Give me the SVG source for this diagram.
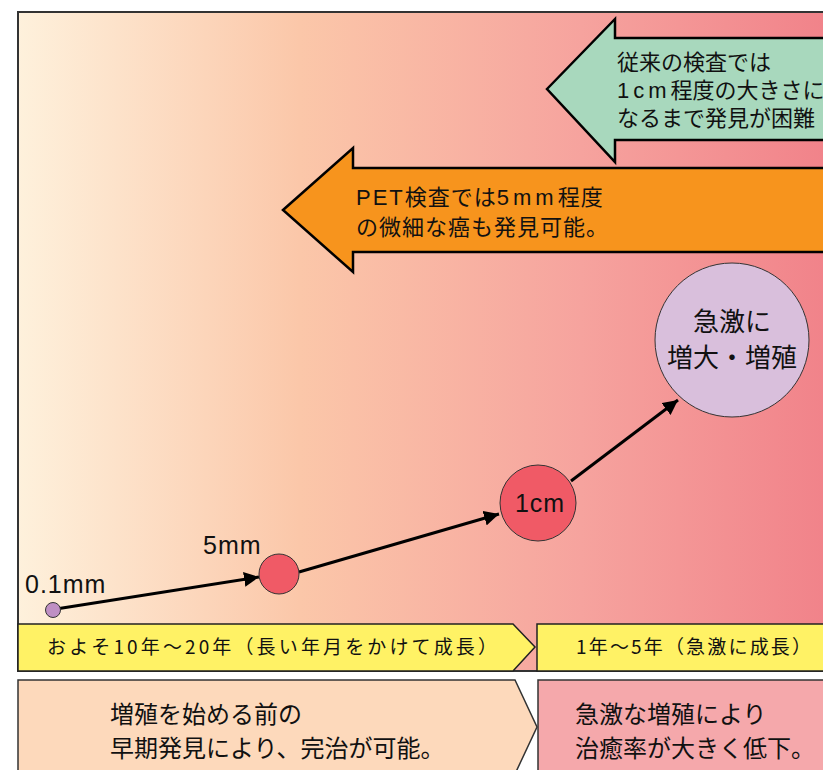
<svg xmlns="http://www.w3.org/2000/svg" width="823" height="770" viewBox="0 0 823 770">
<defs>
<linearGradient id="bg" x1="18" y1="0" x2="823" y2="0" gradientUnits="userSpaceOnUse">
<stop offset="0" stop-color="#fef1dc"/>
<stop offset="0.35" stop-color="#fbc7a9"/>
<stop offset="0.7" stop-color="#f6a39e"/>
<stop offset="1" stop-color="#f1838a"/>
</linearGradient>
<marker id="ah" viewBox="0 0 10 10" refX="10" refY="5" markerWidth="5" markerHeight="5" orient="auto" markerUnits="strokeWidth">
<path d="M0,0 L10,5 L0,10 Z" fill="#000"/>
</marker>
<style>
text{font-family:"Noto Sans CJK JP","Liberation Sans",sans-serif;fill:#111}
.lat{font-family:"Liberation Sans","Noto Sans CJK JP",sans-serif}
.ln{stroke:#000;stroke-width:3;fill:none;marker-end:url(#ah)}
.big{font-size:22px}
.band{font-size:19px}
.low{font-size:24px}
.lbl{font-size:25px;letter-spacing:1px}
</style>
</defs>
<rect id="background" x="18" y="12" width="810" height="659" fill="url(#bg)" stroke="#333" stroke-width="2"/>

<g id="arrow-orange">
<path d="M283,210 L353,148 L353,168 L830,168 L830,252 L353,252 L353,272 Z" fill="#f7941d" stroke="#000" stroke-width="2.5"/>
<text class="big" x="356" y="205" letter-spacing="1"><tspan class="lat" letter-spacing="2">PET</tspan>検査では<tspan class="lat" letter-spacing="4">5mm</tspan>程度</text>
<text class="big" x="356" y="235" letter-spacing="1">の微細な癌も発見可能。</text>
</g>

<g id="arrow-green">
<path d="M547,89 L615,19 L615,38 L830,38 L830,140 L615,140 L615,162 Z" fill="#a8d8bd" stroke="#000" stroke-width="2.5"/>
<text class="big" x="617" y="70">従来の検査では</text>
<text class="big" x="617" y="98"><tspan class="lat" letter-spacing="4">1cm</tspan>程度の大きさに</text>
<text class="big" x="617" y="126">なるまで発見が困難</text>
</g>

<g id="connectors">
<line class="ln" x1="56" y1="609" x2="259" y2="577"/>
<line class="ln" x1="299" y1="572" x2="499" y2="514"/>
<line class="ln" x1="571" y1="481" x2="678" y2="400"/>
</g>

<g id="node-01mm">
<circle cx="53" cy="610" r="7.5" fill="#bf8fc4" stroke="#333" stroke-width="1"/>
<text class="lat lbl" x="25" y="593">0.1mm</text>
</g>
<g id="node-5mm">
<circle cx="279" cy="574" r="20" fill="#f05a66" stroke="#333" stroke-width="1"/>
<text class="lat lbl" x="203" y="554">5mm</text>
</g>
<g id="node-1cm">
<circle cx="538" cy="503" r="38" fill="#f05a66" stroke="#333" stroke-width="1"/>
<text class="lat lbl" x="540" y="512" text-anchor="middle">1cm</text>
</g>
<g id="node-rapid">
<circle cx="732" cy="340" r="77" fill="#d9bfdc" stroke="#333" stroke-width="1"/>
<text x="732" y="331" font-size="26" text-anchor="middle">急激に</text>
<text x="732" y="367" font-size="26" text-anchor="middle">増大・増殖</text>
</g>

<g id="band-long">
<path d="M18,624 L513,624 L535,647 L513,671 L18,671 Z" fill="#fff265" stroke="#222" stroke-width="1.5"/>
<text class="band" x="47" y="654" textLength="450" lengthAdjust="spacing">およそ10年～20年（長い年月をかけて成長）</text>
</g>
<g id="band-short">
<rect x="537" y="624" width="290" height="47" fill="#fff265" stroke="#222" stroke-width="1.5"/>
<text class="band" x="576" y="654" textLength="235" lengthAdjust="spacing">1年～5年（急激に成長）</text>
</g>

<g id="box-early">
<path d="M18,680 L515,680 L537,727 L515,774 L18,774 Z" fill="#fdd9bb" stroke="#333" stroke-width="1.5"/>
<text class="low" x="110" y="723">増殖を始める前の</text>
<text class="low" x="110" y="757">早期発見により、完治が可能。</text>
</g>
<g id="box-late">
<rect x="538" y="680" width="290" height="95" fill="#f5a8ab" stroke="#333" stroke-width="1.5"/>
<text class="low" x="575" y="723">急激な増殖により</text>
<text class="low" x="575" y="757">治癒率が大きく低下。</text>
</g>
</svg>
